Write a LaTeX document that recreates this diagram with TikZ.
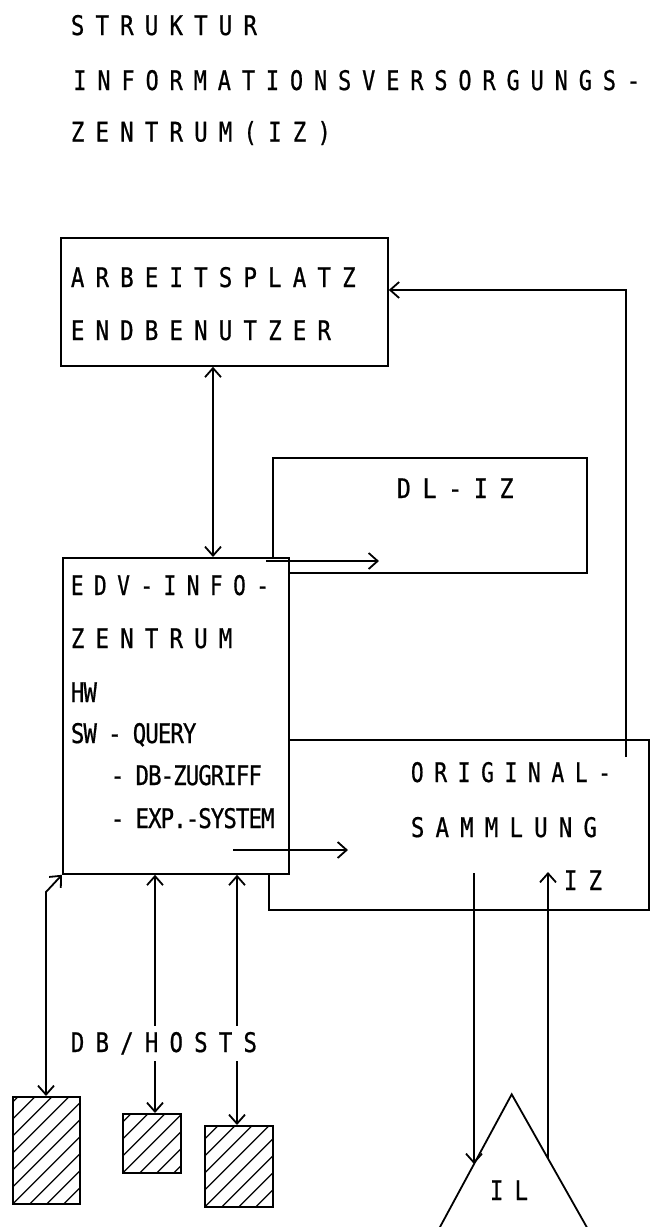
\documentclass[tikz,border=0pt]{standalone}
\usepackage{fontspec}
\newfontfamily\plotfont[FakeStretch=0.83,FakeBold=0.7,LetterSpace=-3.5,WordSpace=0.89]{DejaVu Sans Mono}
\usetikzlibrary{arrows.meta,calc}
\begin{document}
\begin{tikzpicture}[x=1pt,y=-1pt,line width=1.8pt,
  box/.style={draw,rectangle,inner sep=0pt,anchor=north west,line width=1.8pt},
  lbl/.style={anchor=base west,inner sep=0pt,font=\plotfont\fontsize{27pt}{32pt}\selectfont},
  tip/.style={-{Straight Barb[length=9pt,width=16pt]}},
  tiptwo/.style={{Straight Barb[length=9pt,width=16pt]}-{Straight Barb[length=9pt,width=16pt]}},
  hatch/.style={line width=1.3pt}]
\useasboundingbox (0,0) rectangle (668,1227);

% ---- boxes (back to front)
\node[box,minimum width=327pt,minimum height=128pt] (arb) at (60,237) {};
\node[box,minimum width=314pt,minimum height=115pt] (dliz) at (272,457) {};
\node[box,minimum width=380pt,minimum height=170pt] (orig) at (268,739) {};
\node[box,fill=white,minimum width=226pt,minimum height=316pt] (edv) at (62,557) {};

% ---- hatched data bases
\node[box,minimum width=67pt,minimum height=107pt] (h1) at (12,1096) {};
\node[box,minimum width=58pt,minimum height=59pt] (h2) at (122,1113) {};
\node[box,minimum width=68pt,minimum height=81pt] (h3) at (204,1125) {};
\foreach \h in {h1,h2,h3}{
  \begin{scope}
    \clip (\h.north west) rectangle (\h.south east);
    \foreach \k in {-10,...,10}
      \draw[hatch] ($(\h.south west)+(\k*17,0)$) -- ++(140,-140);
  \end{scope}
}

% ---- IL triangle (cut off by the page edge)
\coordinate (tri) at (511.7,1094.3);
\coordinate (triL) at (420,1264);
\coordinate (triR) at (607.6,1264);
\begin{scope}
  \clip (0,0) rectangle (668,1227);
  \draw[line join=miter] (triL) -- (tri) -- (triR);
\end{scope}

% ---- connectors
\coordinate (izb) at (626,757);
\coordinate (izt) at (626,290);
\draw[tip] (izb) -- (izt) -- (izt -| arb.east);

\coordinate (ax) at (213,0);
\draw[tiptwo] (arb.south -| ax) -- (edv.north -| ax);

\coordinate (d1) at (266,561);
\coordinate (d2) at (379,561);
\draw[tip] (d1) -- (d2);

\coordinate (e1) at (233,850);
\coordinate (e2) at (348,850);
\draw[tip] (e1) -- (e2);

\coordinate (k1) at (46,892);
\coordinate (x2) at (155,0);
\coordinate (x3) at (237,0);
\draw[tiptwo] (edv.south west) -- (k1) -- (h1.north -| k1);
\draw[tiptwo] (edv.south -| x2) -- (h2.north -| x2);
\draw[tiptwo] (edv.south -| x3) -- (h3.north -| x3);

\coordinate (o1) at (474,873);
\coordinate (ilin) at (474,1164);
\coordinate (ilout) at (548,1158.5);
\coordinate (o2) at (548,872);
\draw[tip] (o1) -- (ilin);
\draw[tip] (ilout) -- (o2);

% ---- texts
\node[lbl] (t1) at (70,35) {S T R U K T U R};
\node[lbl] (t2) at (72.5,90) {\scalebox{0.976}[1]{I N F O R M A T I O N S V E R S O R G U N G S -}};
\node[lbl] (t3) at (70,141.5) {Z E N T R U M ( I Z )};
\node[lbl] (t4) at (70,287) {A R B E I T S P L A T Z};
\node[lbl] (t5) at (70,340) {E N D B E N U T Z E R};
\node[lbl] (t6) at (396,498) {\scalebox{1.04}[1]{D L - I Z}};
\node[lbl] (t7) at (70,595) {\scalebox{0.94}[1]{E D V - I N F O -}};
\node[lbl] (t8) at (70,648) {Z E N T R U M};
\node[lbl] (t9) at (70,702) {HW};
\node[lbl] (t10) at (70,743) {SW - QUERY};
\node[lbl] (t11) at (110,785) {- DB-ZUGRIFF};
\node[lbl] (t12) at (110,828) {- EXP.-SYSTEM};
\node[lbl] (t13) at (410,782) {\scalebox{0.95}[1]{O R I G I N A L -}};
\node[lbl] (t14) at (410,837) {S A M M L U N G};
\node[lbl] (t15) at (563,890) {I Z};
\node[lbl,fill=white,inner ysep=6pt] (t16) at (70,1052) {D B / H O S T S};
\node[lbl] (t17) at (489,1200) {I L};
\end{tikzpicture}
\end{document}
